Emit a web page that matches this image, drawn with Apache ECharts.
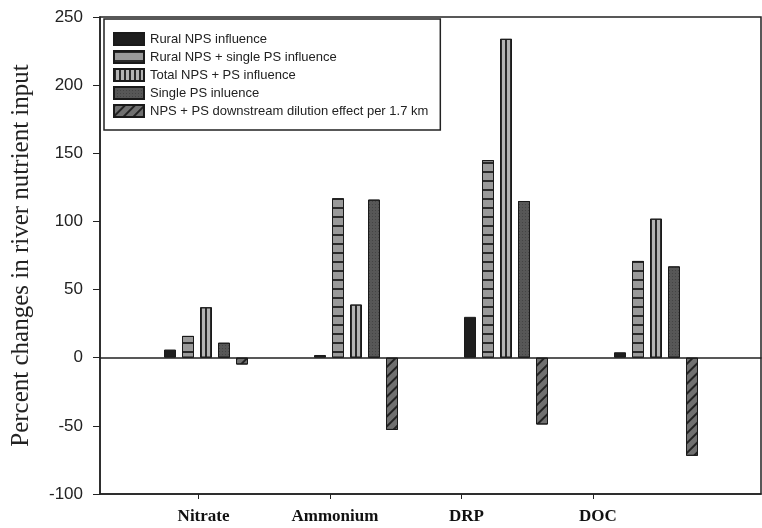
<!DOCTYPE html>
<html>
<head>
<meta charset="utf-8">
<script src="https://cdn.jsdelivr.net/npm/echarts@6/dist/echarts.min.js"></script>
<style>html,body{margin:0;padding:0;background:#fff}#c{width:762px;height:528px}</style>
</head>
<body>
<div id="c"></div>
<script>
var categories = ['Nitrate', 'Ammonium', 'DRP', 'DOC'];
var seriesNames = ['Rural NPS influence', 'Rural NPS + single PS influence', 'Total NPS + PS influence', 'Single PS inluence', 'NPS + PS downstream dilution effect per 1.7 km'];
var ruralNPS = [6, 2, 30, 4];
var ruralNPSsinglePS = [16, 117, 145, 71];
var totalNPSPS = [37, 39, 234, 102];
var singlePS = [11, 116, 115, 67];
var dilution = [-5, -53, -49, -72];
var yTicks = [-100, -50, 0, 50, 100, 150, 200, 250];
var labelPositions = [1, 2, 3, 4];

var values = [ruralNPS, ruralNPSsinglePS, totalNPSPS, singlePS, dilution];
var fills = ['#1e1e1e', '#9a9a9a', '#b4b4b4', '#575757', '#707070'];
var decals = [
  null,
  {symbol: 'rect', symbolSize: 1, dashArrayX: [1, 0], dashArrayY: [1.4, 6.6], color: '#2a2a2a'},
  {symbol: 'rect', symbolSize: 1, dashArrayX: [1.2, 2.8], dashArrayY: [1, 0], color: '#2a2a2a'},
  {symbol: 'circle', symbolSize: 0.9, dashArrayX: [1, 1.5], dashArrayY: [1, 1.5], color: '#333'},
  {symbol: 'rect', symbolSize: 1, dashArrayX: [1.3, 5], dashArrayY: [1, 0], rotation: Math.PI / 4, color: '#222'}
];

var chart = echarts.init(document.getElementById('c'), null, {renderer: 'canvas'});
var series = seriesNames.map(function (name, i) {
  var st = {color: fills[i], borderColor: '#1a1a1a', borderWidth: 1};
  if (decals[i]) st.decal = decals[i];
  return {
    name: name, type: 'bar', xAxisIndex: 2, yAxisIndex: 1,
    barWidth: 12, barGap: '50%', data: values[i], itemStyle: st,
    emphasis: {disabled: true}, animation: false
  };
});

chart.setOption({
  animation: false,
  grid: [
    {left: 100, right: 1, top: 17, bottom: 34, show: true, borderColor: '#222', borderWidth: 1.5},
    {left: 131, width: 600, top: 17, bottom: 34}
  ],
  legend: {
    orient: 'vertical', left: 104, top: 19, padding: [13, 12, 12, 9],
    icon: 'rect', itemWidth: 30, itemHeight: 12, itemGap: 4,
    borderColor: '#222', borderWidth: 1.5,
    textStyle: {fontFamily: 'Liberation Sans, Arial', fontSize: 13, color: '#222', padding: [0, 0, 0, 1]},
    data: seriesNames, selectedMode: false
  },
  xAxis: [
    {
      type: 'value', gridIndex: 0, position: 'bottom', min: 0.25, max: 5.28,
      axisLine: {onZero: false, lineStyle: {color: '#222', width: 1.5}},
      axisTick: {show: true, inside: false, length: 5, customValues: labelPositions, lineStyle: {color: '#222'}},
      axisLabel: {
        customValues: labelPositions, margin: 14, padding: [0, 0, 0, 10],
        fontFamily: 'Liberation Serif, Times New Roman', fontWeight: 'bold', fontSize: 17, color: '#111',
        formatter: function (v) { return categories[Math.round(v) - 1] || ''; }
      },
      splitLine: {show: false}
    },
    {
      type: 'value', gridIndex: 0, position: 'bottom', min: 0.25, max: 5.28,
      axisLine: {onZero: true, onZeroAxisIndex: 0, lineStyle: {color: '#222', width: 1.5}},
      axisTick: {show: false}, axisLabel: {show: false}, splitLine: {show: false}
    },
    {
      type: 'category', gridIndex: 1, data: categories,
      axisLine: {show: false}, axisTick: {show: false}, axisLabel: {show: false}
    }
  ],
  yAxis: [
    {
      type: 'value', gridIndex: 0, min: -100, max: 250, interval: 50,
      name: 'Percent changes in river nutrient input', nameLocation: 'middle', nameGap: 66,
      nameTextStyle: {fontFamily: 'Liberation Serif, Times New Roman', fontSize: 25, color: '#222'},
      axisLine: {show: true, onZero: false, lineStyle: {color: '#222', width: 1.5}},
      axisTick: {show: true, inside: false, length: 7, lineStyle: {color: '#222'}},
      axisLabel: {margin: 17, fontFamily: 'Liberation Sans, Arial', fontSize: 17, color: '#222',
        formatter: function (v) { return yTicks.indexOf(v) >= 0 ? String(v) : ''; }},
      splitLine: {show: false}
    },
    {
      type: 'value', gridIndex: 1, min: -100, max: 250, interval: 50, show: false
    }
  ],
  series: series
});
</script>
</body>
</html>
